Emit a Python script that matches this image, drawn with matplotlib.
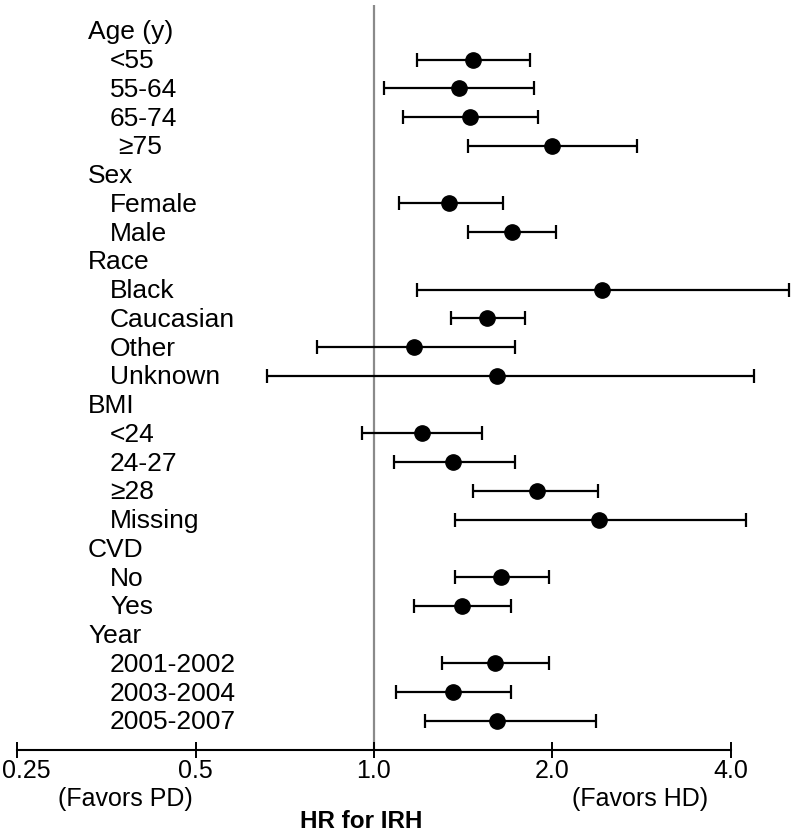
import matplotlib.pyplot as plt
import numpy as np
from matplotlib.transforms import blended_transform_factory, ScaledTranslation

plt.rcParams['font.family'] = ['Liberation Sans', 'DejaVu Sans']

# rows of the forest plot (group header rows have no estimate)
labels = ["Age (y)", "<55", "55-64", "65-74", "\u226575",
          "Sex", "Female", "Male",
          "Race", "Black", "Caucasian", "Other", "Unknown",
          "BMI", "<24", "24-27", "\u226528", "Missing",
          "CVD", "No", "Yes",
          "Year", "2001-2002", "2003-2004", "2005-2007"]
is_group = [1, 0, 0, 0, 0,
            1, 0, 0,
            1, 0, 0, 0, 0,
            1, 0, 0, 0, 0,
            1, 0, 0,
            1, 0, 0, 0]
hr = [np.nan, 1.47, 1.39, 1.45, 2.00,
      np.nan, 1.34, 1.71,
      np.nan, 2.42, 1.55, 1.17, 1.61,
      np.nan, 1.205, 1.36, 1.88, 2.40,
      np.nan, 1.64, 1.41,
      np.nan, 1.60, 1.36, 1.61]
lo = [np.nan, 1.18, 1.04, 1.12, 1.44,
      np.nan, 1.10, 1.44,
      np.nan, 1.18, 1.35, 0.80, 0.66,
      np.nan, 0.955, 1.08, 1.47, 1.37,
      np.nan, 1.37, 1.17,
      np.nan, 1.30, 1.09, 1.22]
hi = [np.nan, 1.83, 1.86, 1.89, 2.78,
      np.nan, 1.65, 2.03,
      np.nan, 5.01, 1.80, 1.73, 4.37,
      np.nan, 1.52, 1.73, 2.39, 4.24,
      np.nan, 1.97, 1.70,
      np.nan, 1.97, 1.70, 2.37]

ticks = [0.25, 0.5, 1.0, 2.0, 4.0]
tick_labels = ["0.25", "0.5", "1.0", "2.0", "4.0"]

W, H = 791, 832
fig = plt.figure(figsize=(W / 100, H / 100), dpi=100)
ax = fig.add_axes([17 / W, (H - 750) / H, (731 - 17) / W, (750 - 5) / H])

hr = np.array(hr)
lo = np.array(lo)
hi = np.array(hi)
y = np.arange(len(labels))

ax.axvline(1.0, color="#8a8a8a", lw=1.6, zorder=1)
eb = ax.errorbar(hr, y, xerr=[hr - lo, hi - hr], fmt="o", color="black",
                 ms=11, elinewidth=1.6, capsize=5, capthick=1.6, zorder=3)
for art in eb.lines[1] + eb.lines[2]:
    art.set_clip_on(False)
eb.lines[0].set_clip_on(False)

ax.set_xscale("log")
ax.set_xlim(0.25, 4.0)
ax.set_ylim(len(labels) - 1 + 1.01, -0.904)
ax.set_xticks(ticks)
ax.set_xticklabels(tick_labels)
ax.xaxis.set_minor_locator(plt.NullLocator())
ax.tick_params(axis="x", direction="inout", length=11, width=1.4,
               labelsize=18, pad=1)
ax.set_yticks([])
for s in ["top", "right", "left"]:
    ax.spines[s].set_visible(False)
ax.spines["bottom"].set_linewidth(1.5)

# first tick label sits a little to the right so it stays on the page
first = ax.get_xticklabels()[0]
first.set_transform(first.get_transform() + ScaledTranslation(9 / 100, 0, fig.dpi_scale_trans))

tr = blended_transform_factory(fig.transFigure, ax.transData)
for i, (lab, g) in enumerate(zip(labels, is_group)):
    if g:
        x0 = 88
    elif lab.startswith("\u2265") and i < 5:
        x0 = 118
    else:
        x0 = 110
    ax.text(x0 / W, i + 0.05, lab, transform=tr, fontsize=19, va="center",
            ha="left")

fig.text(125 / W, 1 - 799 / H, "(Favors PD)", fontsize=18,
         ha="center", va="center")
fig.text(640 / W, 1 - 799 / H, "(Favors HD)", fontsize=18,
         ha="center", va="center")
fig.text(361 / W, 1 - 822 / H, "HR for IRH", fontsize=17.5,
         fontweight="bold", ha="center", va="center",
         family=["Liberation Sans Narrow", "Liberation Sans", "DejaVu Sans"])

fig.savefig("out.png", dpi=100)
